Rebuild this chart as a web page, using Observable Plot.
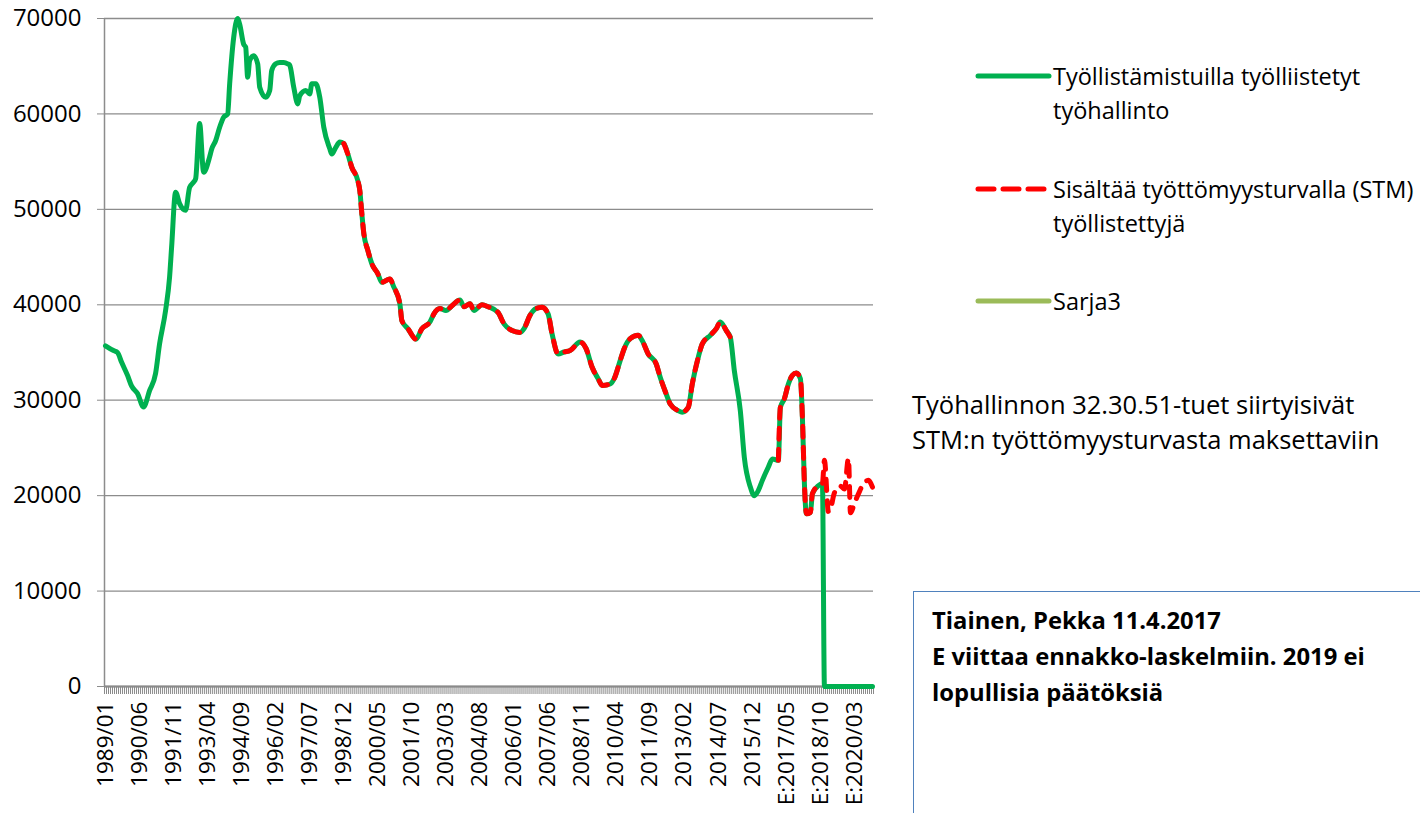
<!DOCTYPE html>
<html>
<head>
<meta charset="utf-8">
<script src="https://cdn.jsdelivr.net/npm/d3@7"></script>
<script src="https://cdn.jsdelivr.net/npm/@observablehq/plot@0.6"></script>
<style>
  body { margin: 0; background: #fff; }
  #wrap { position: relative; width: 1420px; height: 813px; overflow: hidden; font-family: "Open Sans", sans-serif; color: #000; }
  #chart { position: absolute; left: 0; top: 0; }
  .txt { position: absolute; white-space: nowrap; }
  .sw { position: absolute; }
  #box { position: absolute; border-top: 1.5px solid #4f81bd; border-left: 1.5px solid #4f81bd; }
</style>
</head>
<body>
<div id="wrap"><div id="chart"></div></div>
<script>
// ---- data ----
const tickLabels = ["1989/01","1990/06","1991/11","1993/04","1994/09","1996/02","1997/07","1998/12",
  "2000/05","2001/10","2003/03","2004/08","2006/01","2007/06","2008/11","2010/04","2011/09",
  "2013/02","2014/07","2015/12","E:2017/05","E:2018/10","E:2020/03"];
const yTicks = [0,10000,20000,30000,40000,50000,60000,70000];

const greenMonths = ["1989/01","1989/05","1989/07","1989/09","1989/12","1990/02","1990/05","1990/08","1990/11",
  "1991/02","1991/04","1991/07","1991/09","1991/10","1991/12","1992/02","1992/05","1992/07","1992/09","1992/10",
  "1992/12","1993/02","1993/05","1993/06","1993/08","1993/10","1993/12","1994/02","1994/03","1994/05","1994/07",
  "1994/08","1994/10","1994/11","1994/12","1995/01","1995/03","1995/05","1995/06","1995/09","1995/11","1995/12",
  "1996/02","1996/04","1996/06","1996/08","1996/09","1996/11","1997/01","1997/02","1997/05","1997/07","1997/08",
  "1997/10","1997/12","1998/02","1998/05","1998/06","1998/08","1998/10","1998/12","1999/02","1999/04","1999/07",
  "1999/08","1999/09","1999/10","1999/12","2000/02","2000/05","2000/07","2000/11","2001/01","2001/04","2001/05",
  "2001/08","2001/12","2002/03","2002/07","2002/09","2002/12","2003/03","2003/06","2003/10","2003/12","2004/03",
  "2004/05","2004/09","2004/12","2005/05","2005/08","2005/12","2006/04","2006/06","2006/09","2006/12","2007/03",
  "2007/06","2007/08","2007/11","2008/02","2008/05","2008/10","2009/01","2009/04","2009/07","2009/09","2010/01",
  "2010/03","2010/06","2010/08","2010/11","2011/03","2011/05","2011/08","2011/12","2012/02","2012/05","2012/07",
  "2012/11","2013/01","2013/04","2013/06","2013/09","2013/11","2014/03","2014/06","2014/08","2014/11","2015/01",
  "2015/03","2015/06","2015/08","2015/11","2016/01","2016/03","2016/05","2016/08","2016/10","2017/01","2017/02",
  "2017/04","2017/06","2017/08","2017/10","2017/12","2018/01","2018/02","2018/03","2018/05","2018/06","2018/09",
  "2018/11","2018/12","2020/12"];
const greenValues = [35700,35200,35000,34000,32600,31500,30700,29300,31000,
  32800,35900,39400,42900,46000,51800,50600,49900,52300,52850,53200,
  59000,53900,55500,56300,57200,58600,59650,60000,63150,68000,70000,
  69400,67300,67000,63850,65600,66100,65250,62800,61750,62450,64550,
  65250,65400,65400,65250,65100,62800,61050,61900,62450,62100,63150,
  63150,61750,58600,56350,55800,56500,57050,56900,55800,54400,53000,
  51950,49550,47450,45700,44300,43250,42350,42700,41850,40100,38350,
  37500,36400,37500,38200,39050,39600,39400,39900,40500,39800,40100,
  39400,40000,39800,39200,38000,37300,37100,37500,38900,39600,39750,
  39050,36950,34850,35050,35200,36100,35400,33450,32250,31550,31700,
  32250,34150,35400,36450,36800,36250,34850,33800,32400,30650,29600,
  28900,28750,29250,31700,34500,35900,36800,37500,38200,37300,36600,
  33100,28900,24000,20900,20000,20550,21600,23000,23850,23700,29250,
  30150,31700,32600,32850,32250,28200,21250,18100,18250,20200,21050,
  21250,0,0];

const redMonths = ["1998/12","1999/02","1999/04","1999/07","1999/08","1999/09","1999/10","1999/12","2000/02",
  "2000/05","2000/07","2000/11","2001/01","2001/04","2001/05","2001/08","2001/12","2002/03","2002/07","2002/09",
  "2002/12","2003/03","2003/06","2003/10","2003/12","2004/03","2004/05","2004/09","2004/12","2005/05","2005/08",
  "2005/12","2006/04","2006/06","2006/09","2006/12","2007/03","2007/06","2007/08","2007/11","2008/02","2008/05",
  "2008/10","2009/01","2009/04","2009/07","2009/09","2010/01","2010/03","2010/06","2010/08","2010/11","2011/03",
  "2011/05","2011/08","2011/12","2012/02","2012/05","2012/07","2012/11","2013/01","2013/04","2013/06","2013/09",
  "2013/11","2014/03","2014/06","2014/08","2014/11","2015/01","2016/01","2017/01","2017/02","2017/04","2017/06",
  "2017/08","2017/10","2017/12","2018/01","2018/02","2018/03","2018/05","2018/06","2018/09","2018/11","2018/12",
  "2019/02","2019/03","2019/05","2019/08","2019/10","2019/12","2020/01","2020/03","2020/05","2020/08","2020/10",
  "2020/12"];
const redValues = [56900,55800,54400,53000,51950,49550,47450,45700,44300,
  43250,42350,42700,41850,40100,38350,37500,36400,37500,38200,39050,
  39600,39400,39900,40500,39800,40100,39400,40000,39800,39200,38000,
  37300,37100,37500,38900,39600,39750,39050,36950,34850,35050,35200,
  36100,35400,33450,32250,31550,31700,32250,34150,35400,36450,36800,
  36250,34850,33800,32400,30650,29600,28900,28750,29250,31700,34500,
  35900,36800,37500,38200,37300,36600,null,23700,29250,30150,31700,
  32600,32850,32250,28200,21250,18100,18250,20200,21050,21250,23700,
  18300,18600,20300,21000,20700,23900,18200,19200,20200,21400,21600,
  20900];

const sarja3Months = [];
const sarja3Values = [];

const seriesNames = ["Työllistämistuilla työlliistetyt\ntyöhallinto",
  "Sisältää työttömyysturvalla (STM)\ntyöllistettyjä", "Sarja3"];
const noteLines = ["Työhallinnon 32.30.51-tuet siirtyisivät", "STM:n työttömyysturvasta maksettaviin"];
const boxLines = ["Tiainen, Pekka 11.4.2017", "E viittaa ennakko-laskelmiin. 2019 ei", "lopullisia päätöksiä"];

// ---- helpers ----
const firstYear = 1989;
const nMonths = 384;
function monthIndex(s) { const [y, m] = s.split("/").map(Number); return (y - firstYear) * 12 + (m - 1); }
const toRows = (ms, vs) => ms.map((m, k) => ({ i: monthIndex(m), v: vs[k] }));
const greenData = toRows(greenMonths, greenValues);
const redData = toRows(redMonths, redValues);
const sarja3Data = toRows(sarja3Months, sarja3Values);
const labelIdx = tickLabels.map((_, k) => k * 17);
const boundaries = d3.range(0, nMonths + 1).map(k => k - 0.5);

const colors = ["#00B050", "#FF0000", "#9BBB59"];
const FONT = "Open Sans";

const chart = Plot.plot({
  width: 1420, height: 813,
  marginLeft: 104, marginRight: 547, marginTop: 18, marginBottom: 127,
  x: { domain: [-0.5, nMonths - 0.5], axis: null },
  y: { domain: [0, 70000], axis: null },
  style: { fontFamily: FONT, fontSize: "22px", color: "#000", background: "#fff", overflow: "visible" },
  marks: [
    Plot.ruleY(yTicks, { stroke: "#8c8c8c", strokeWidth: 1.3 }),
    Plot.axisY({ ticks: yTicks, tickSize: 7, tickPadding: 16, tickFormat: d => String(d),
      stroke: "#8c8c8c", fontSize: 24, label: null, anchor: "left" }),
    Plot.ruleX([-0.5], { y1: 0, y2: 70000, stroke: "#8c8c8c", strokeWidth: 1.5 }),
    Plot.axisX({ ticks: boundaries, tickSize: 8, tickFormat: () => "", stroke: "#8a8a8a", label: null }),
    Plot.ruleY([0], { stroke: "#8a8a8a", strokeWidth: 2 }),
    Plot.axisX({ ticks: labelIdx, tickSize: 0, tickPadding: 15, tickRotate: -90,
      tickFormat: i => tickLabels[i / 17], label: null, fontSize: 22.5 }),
    Plot.line(sarja3Data, { x: "i", y: "v", stroke: colors[2], strokeWidth: 5 }),
    Plot.line(greenData, { x: "i", y: "v", stroke: colors[0], strokeWidth: 5, curve: "monotone-x",
      strokeLinecap: "round", strokeLinejoin: "round" }),
    Plot.line(redData, { x: "i", y: "v", stroke: colors[1], strokeWidth: 5, curve: "monotone-x",
      strokeDasharray: "11,10", strokeLinecap: "round", strokeLinejoin: "round" })
  ]
});
document.getElementById("chart").appendChild(chart);

// ---- legend & notes (HTML overlay on the right) ----
const wrap = document.getElementById("wrap");
function addText(lines, left, top, lh, size, weight) {
  const d = document.createElement("div");
  d.className = "txt";
  d.style.left = left + "px"; d.style.top = top + "px";
  d.style.lineHeight = lh + "px"; d.style.fontSize = size + "px";
  d.style.fontWeight = weight || 400;
  d.innerHTML = lines.map(s => s.replace(/&/g, "&amp;").replace(/</g, "&lt;")).join("<br>");
  wrap.appendChild(d);
}
const legendY = [76, 189, 301];
const dashes = [null, "16,9", null];
seriesNames.forEach((name, k) => {
  const s = d3.create("svg").attr("class", "sw").attr("width", 80).attr("height", 12)
    .style("left", "973px").style("top", (legendY[k] - 6) + "px");
  s.append("line").attr("x1", 5).attr("x2", 76).attr("y1", 6).attr("y2", 6)
    .attr("stroke", colors[k]).attr("stroke-width", 5).attr("stroke-linecap", "round")
    .attr("stroke-dasharray", dashes[k]);
  wrap.appendChild(s.node());
  addText(name.split("\n"), 1053, legendY[k] - 17, 34, 23.5);
});
addText(noteLines, 912, 387, 35, 25.5);
const box = document.createElement("div");
box.id = "box";
box.style.left = "913px"; box.style.top = "591px"; box.style.width = "600px"; box.style.height = "300px";
wrap.appendChild(box);
addText(boxLines, 932, 602, 36, 23.8, 700);
</script>
</body>
</html>
